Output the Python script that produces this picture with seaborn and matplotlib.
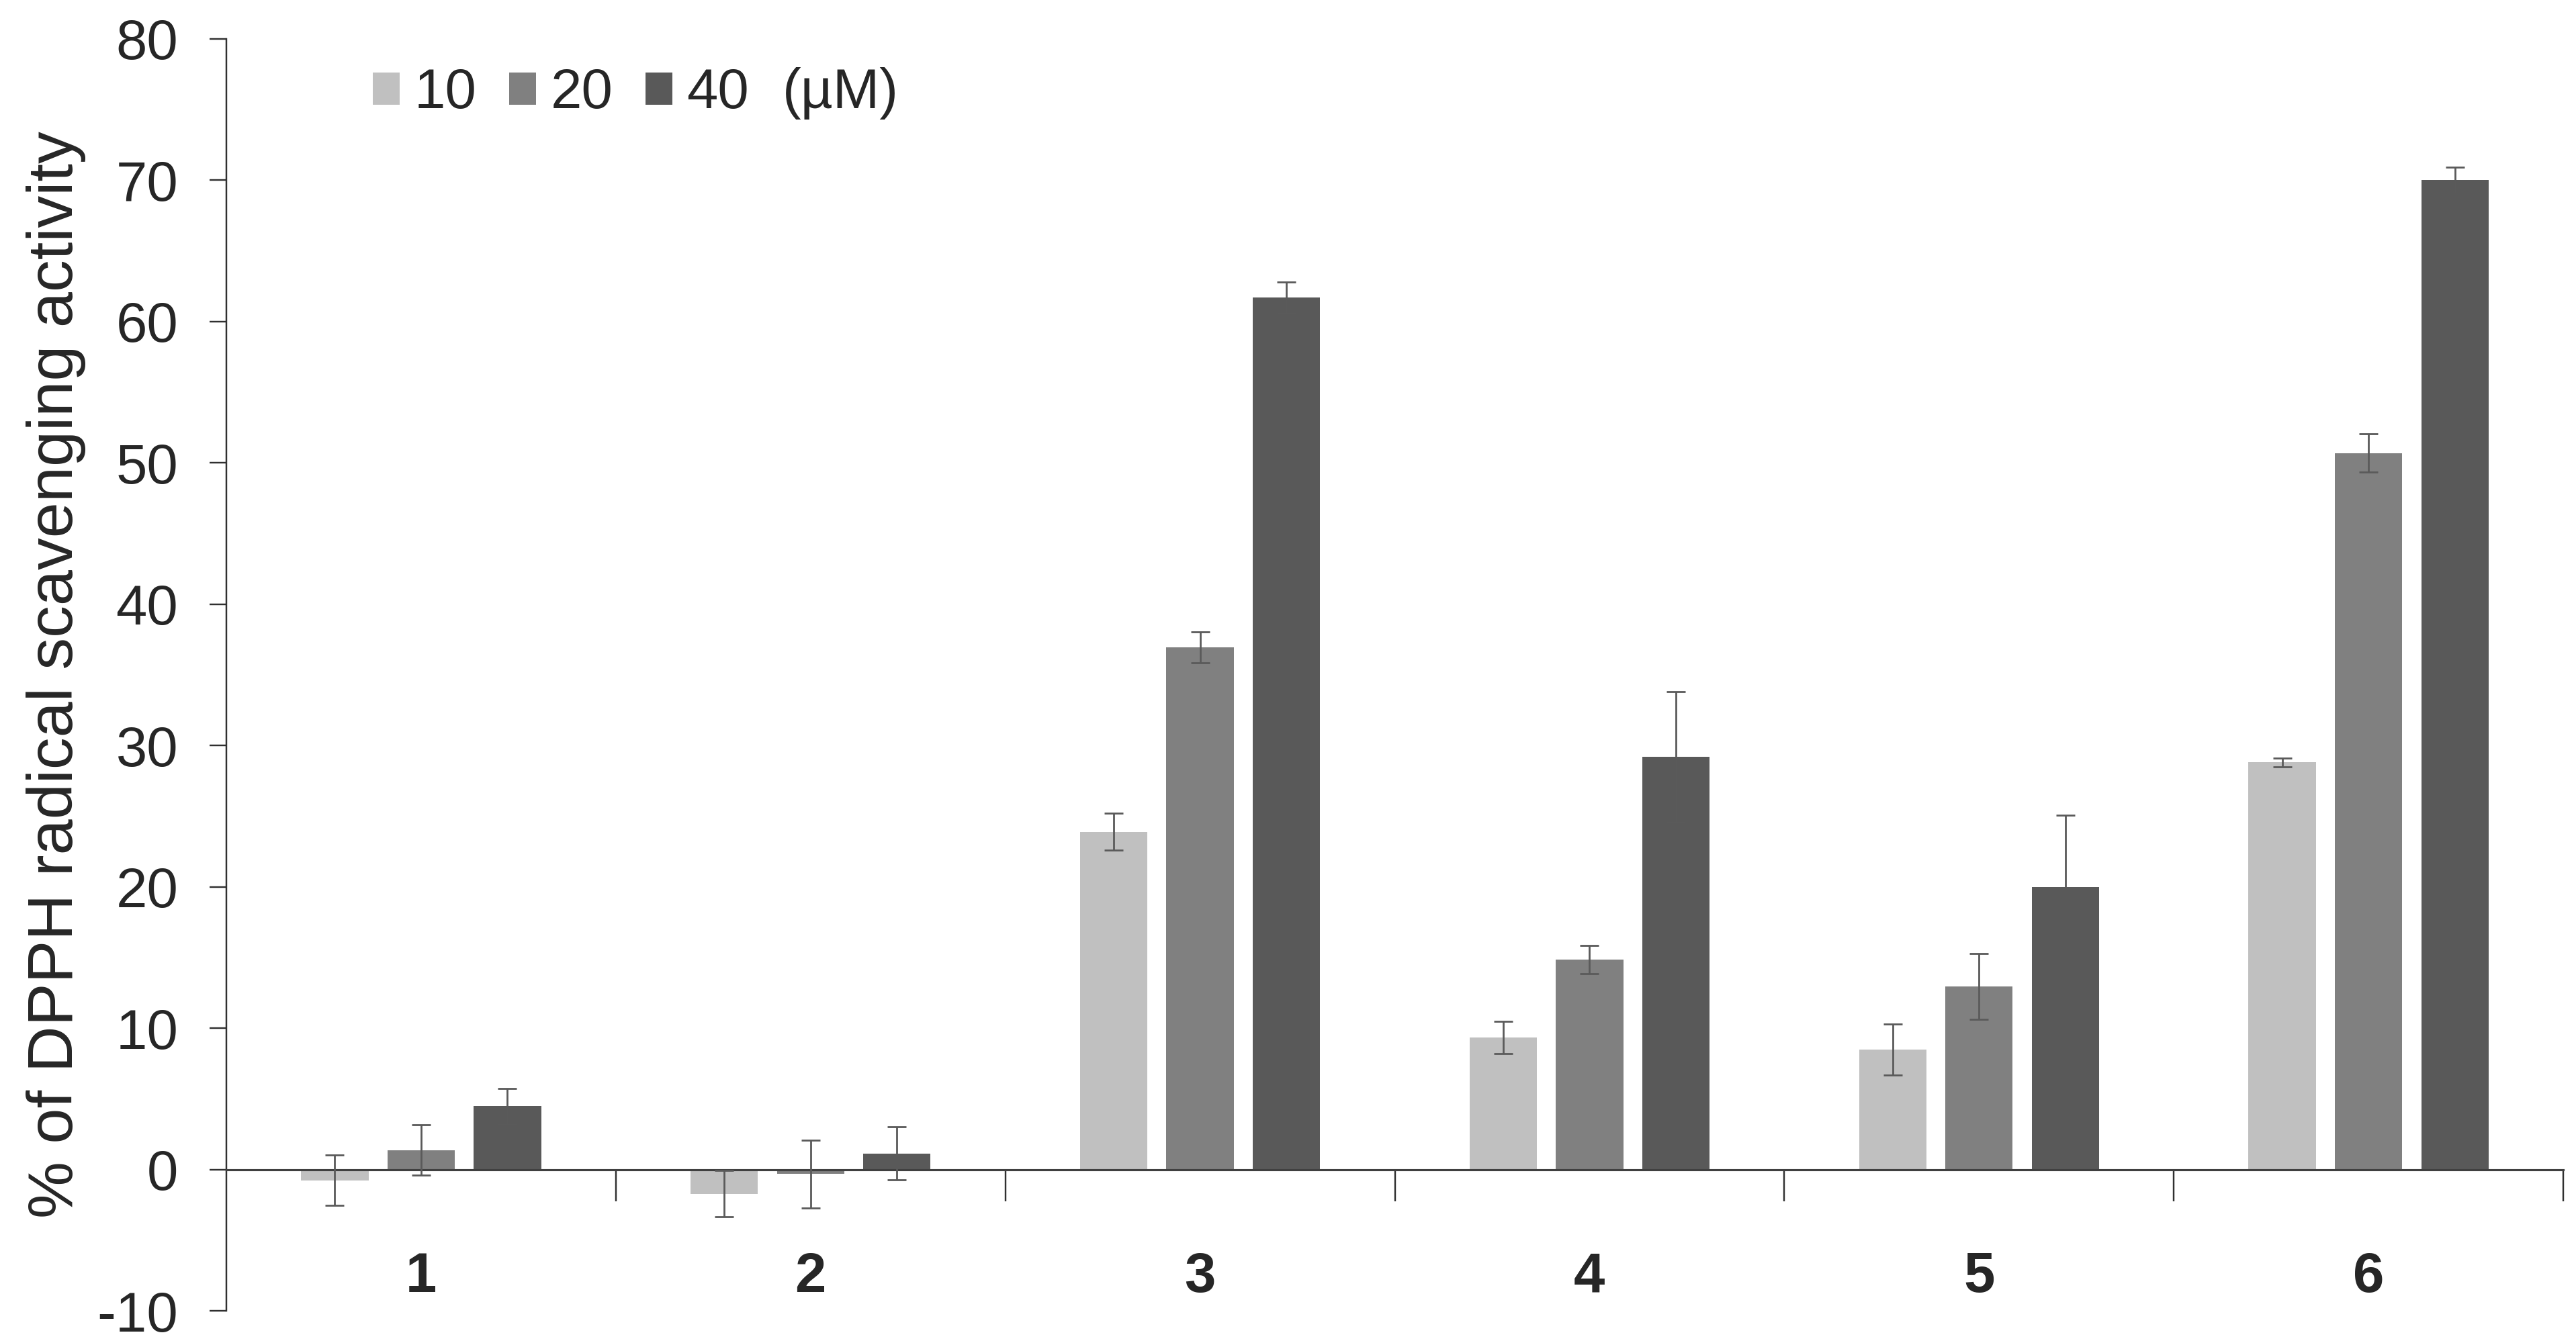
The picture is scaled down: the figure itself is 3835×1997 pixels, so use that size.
# DPPH radical scavenging activity - grouped bar chart

import pandas as pd
import seaborn as sns
import matplotlib.pyplot as plt
from matplotlib.ticker import FixedLocator

# data
compounds = ['1', '2', '3', '4', '5', '6']
concs = ['10', '20', '40']
mean_10 = [-0.76, -1.72, 23.9, 9.33, 8.49, 28.8]
mean_20 = [1.38, -0.32, 36.95, 14.87, 12.93, 50.7]
mean_40 = [4.48, 1.14, 61.7, 29.2, 19.97, 70.0]
err_10 = [1.8, 1.63, 1.3, 1.13, 1.8, 0.3]
err_20 = [1.8, 2.4, 1.1, 1.0, 2.33, 1.35]
err_40 = [1.27, 1.86, 1.1, 4.6, 5.1, 0.9]
colors = ['#c0c0c0', '#808080', '#595959']

rows = []
for c, vals in zip(concs, [mean_10, mean_20, mean_40]):
    for comp, v in zip(compounds, vals):
        rows.append({'compound': comp, 'conc': c, 'value': v})
df = pd.DataFrame(rows)

sns.set_style('ticks')
plt.rcParams['font.family'] = ['Liberation Sans', 'DejaVu Sans']
plt.rcParams['axes.unicode_minus'] = False

fig = plt.figure(figsize=(3835 / 250, 1997 / 250), dpi=250)
ax = fig.add_axes([0.08788, 0.02253, 0.90717, 0.94843])

sns.barplot(data=df, x='compound', y='value', hue='conc', order=compounds,
            hue_order=concs, palette=colors, width=0.665, gap=0.22,
            errorbar=None, saturation=1, linewidth=0, ax=ax)

# error bars on top of each bar
for cont, errs in zip(ax.containers, [err_10, err_20, err_40]):
    xs = [p.get_x() + p.get_width() / 2 for p in cont]
    ax.errorbar(xs, cont.datavalues, yerr=errs, fmt='none', ecolor='#5a5a5a',
                elinewidth=0.8, capsize=3.9, capthick=0.8, zorder=3)

ax.set_xlim(-0.5, 5.5)
ax.set_ylim(-10, 80)
ax.set_yticks(range(-10, 81, 10))
ax.set_xlabel('')
ax.set_ylabel('% of DPPH radical scavenging activity', fontsize=27.5)
ax.yaxis.set_label_coords(-0.060, 0.5)

for s in ['top', 'right']:
    ax.spines[s].set_visible(False)
ax.spines['bottom'].set_position(('data', 0))
ax.spines['bottom'].set_color('#404040')
ax.spines['bottom'].set_linewidth(0.9)
ax.spines['left'].set_color('#303030')
ax.spines['left'].set_linewidth(0.7)

ax.xaxis.set_minor_locator(FixedLocator([0.5, 1.5, 2.5, 3.5, 4.5, 5.5]))
ax.tick_params(axis='x', which='minor', length=13.5, width=0.7,
               color='#303030', direction='out')
ax.tick_params(axis='x', which='major', length=0, pad=35, labelsize=24)
ax.tick_params(axis='y', length=7.2, width=0.7, color='#303030',
               direction='out', pad=13.5, labelsize=24)
for lbl in ax.get_xticklabels():
    lbl.set_fontweight('bold')

handles, labels = ax.get_legend_handles_labels()
ax.legend(handles, labels, loc='center left', bbox_to_anchor=(0.0627, 0.957),
          ncol=3, frameon=False, fontsize=24, handlelength=0.48,
          handleheight=0.52, handletextpad=0.26, columnspacing=0.58,
          borderpad=0, borderaxespad=0)
ax.text(0.238, 0.957, '(µM)', transform=ax.transAxes, fontsize=24,
        ha='left', va='center')

plt.savefig('out.png', dpi=250)
